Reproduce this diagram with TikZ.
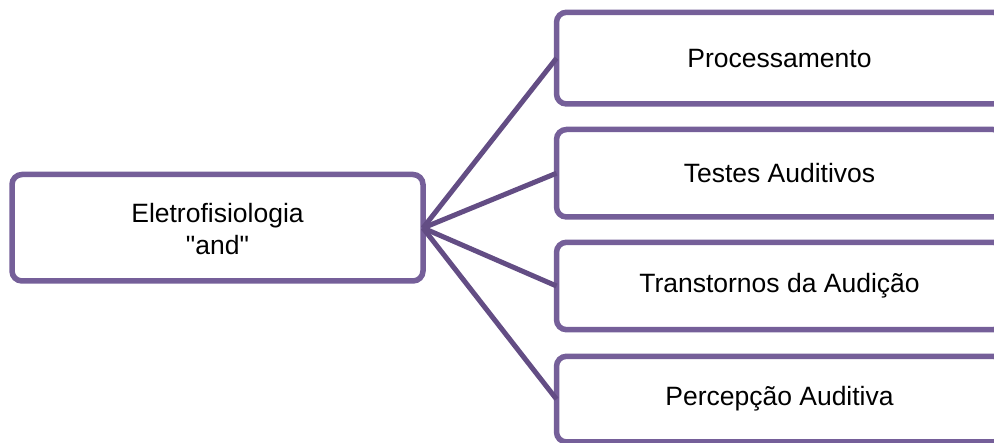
\documentclass[tikz,border=0pt]{standalone}
\usepackage{fontspec}
\setmainfont{Liberation Sans}[Ligatures=TeXOff]
\definecolor{boxpurple}{HTML}{755F99}
\definecolor{linepurple}{HTML}{634D84}
\begin{document}
\begin{tikzpicture}[x=1pt,y=-1pt,
  box/.style={draw=boxpurple,line width=5.5pt,rounded corners=10pt,fill=white},
  lbl/.style={font=\fontsize{26.5}{32}\selectfont,align=center,text=black},
  conn/.style={draw=linepurple,line width=5pt}]
\useasboundingbox (0,0) rectangle (994,443);
\begin{scope}
\clip (0,0) rectangle (994,443);
\draw[box] (12,174.5) rectangle (423,281);
\draw[box] (556.5,12.3) rectangle (1003,104);
\draw[box] (556.5,129.5) rectangle (1003,217);
\draw[box] (556.5,242.3) rectangle (1003,329.7);
\draw[box] (556.5,356.3) rectangle (1003,442);
\coordinate (hub) at (423,228);
\coordinate (e1) at (556.5,58.2);
\coordinate (e2) at (556.5,173.2);
\coordinate (e3) at (556.5,286);
\coordinate (e4) at (556.5,399.2);
\draw[conn] (hub) -- (e1);
\draw[conn] (hub) -- (e2);
\draw[conn] (hub) -- (e3);
\draw[conn] (hub) -- (e4);
\end{scope}
\node[lbl] (root) at (217.5,229) {Eletrofisiologia\\"and"};
\node[lbl] (a) at (779.5,58.2) {Processamento};
\node[lbl] (b) at (779.5,173.2) {Testes Auditivos};
\node[lbl] (c) at (779.5,286) {Transtornos da Audição};
\node[lbl] (d) at (779.5,399.2) {Percepção Auditiva};
\end{tikzpicture}
\end{document}
